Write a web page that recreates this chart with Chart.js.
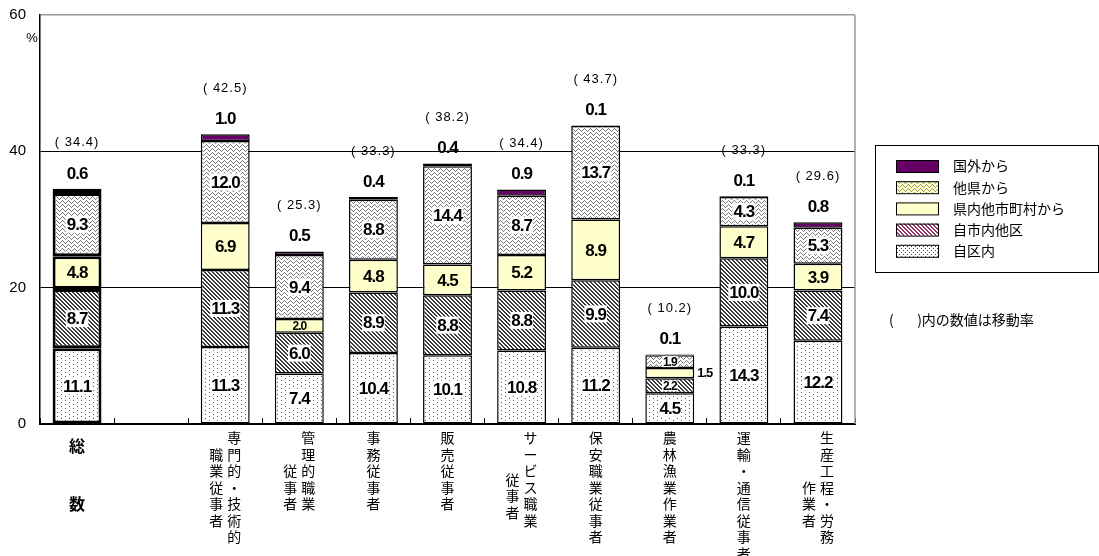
<!DOCTYPE html>
<html>
<head>
<meta charset="utf-8">
<script src="https://cdn.jsdelivr.net/npm/chart.js@4"></script>
<style>
  body { margin: 0; background: #fff; }
  #wrap { width: 1099px; height: 556px; position: relative; }
</style>
</head>
<body>
<div id="wrap"><canvas id="chart"></canvas></div>
<script>
// categories (x axis), one empty slot after 総数
const categories = ['総数', '', '専門的・技術的職業従事者', '管理的職業従事者', '事務従事者', '販売従事者',
    'サービス職業従事者', '保安職業従事者', '農林漁業作業者', '運輸・通信従事者', '生産工程・労務作業者'];

// vertical tick labels, columns right to left ('　' = skip one row, ' ' = half a row)
const tickColumns = [
    [' 総　　 数'],
    [''],
    ['専門的・技術的', '　職業従事者'],
    ['管理的職業', '　　従事者'],
    ['事務従事者'],
    ['販売従事者'],
    ['サービス職業', '　　 従事者'],
    ['保安職業従事者'],
    ['農林漁業作業者'],
    ['運輸・通信従事者'],
    ['生産工程・労務', '　　　作業者']
];

// series values (%)
const jikunai     = [11.1, null, 11.3, 7.4, 10.4, 10.1, 10.8, 11.2, 4.5, 14.3, 12.2];
const shinaiTaku  = [8.7, null, 11.3, 6.0, 8.9, 8.8, 8.8, 9.9, 2.2, 10.0, 7.4];
const kennaiTashi = [4.8, null, 6.9, 2.0, 4.8, 4.5, 5.2, 8.9, 1.5, 4.7, 3.9];
const taken       = [9.3, null, 12.0, 9.4, 8.8, 14.4, 8.7, 13.7, 1.9, 4.3, 5.3];
const kokugai     = [0.6, null, 1.0, 0.5, 0.4, 0.4, 0.9, 0.1, 0.1, 0.1, 0.8];
// 移動率 shown in brackets above each bar
const idouritsu   = [34.4, null, 42.5, 25.3, 33.3, 38.2, 34.4, 43.7, 10.2, 33.3, 29.6];

const seriesNames = ['自区内', '自市内他区', '県内他市町村から', '他県から', '国外から'];
const yTicks = [0, 20, 40, 60];

// small tile patterns
function makePattern(w, h, bg, fg, pixels) {
    const c = document.createElement('canvas');
    c.width = w; c.height = h;
    const g = c.getContext('2d');
    g.fillStyle = bg;
    g.fillRect(0, 0, w, h);
    g.fillStyle = fg;
    pixels.forEach(p => g.fillRect(p[0], p[1], 1, 1));
    return g.createPattern(c, 'repeat');
}
const dotPix = [[1, 0], [5, 2]];
const hatchPix = [[0, 0], [1, 0], [1, 1], [2, 1], [2, 2], [3, 2], [3, 3], [0, 3]];
const zigPix = [[0, 2], [1, 1], [2, 0], [3, 1], [4, 2], [5, 3]];

// patterns used in the bars (grey) and in the legend (coloured)
const barFills = [
    makePattern(8, 4, '#fff', '#555', dotPix),
    makePattern(4, 4, '#fff', '#3a3a3a', hatchPix),
    '#ffffcc',
    makePattern(6, 4, '#fff', '#7a7a7a', zigPix),
    '#660066'
];
const legendFills = [
    makePattern(4, 4, '#fff', '#2233cc', [[1, 0], [3, 2]]),
    makePattern(4, 4, '#fff', '#993366', hatchPix),
    '#ffffcc',
    makePattern(6, 4, '#ffffdd', '#999933', zigPix),
    '#660066'
];

const seriesData = [jikunai, shinaiTaku, kennaiTashi, taken, kokugai];

const NUM_FONT = 'bold 17px "Liberation Sans", Arial, sans-serif';
const JP_FONT = '"Noto Sans CJK JP", sans-serif';

// value labels inside / above the bars
const valueLabels = {
    id: 'valueLabels',
    afterDatasetsDraw(chart) {
        const ctx = chart.ctx;
        ctx.save();
        ctx.textAlign = 'center';
        ctx.textBaseline = 'middle';
        chart.data.datasets.forEach((ds, di) => {
            const meta = chart.getDatasetMeta(di);
            meta.data.forEach((bar, i) => {
                const v = ds.data[i];
                if (v == null) return;
                const p = bar.getProps(['x', 'y', 'base', 'width'], true);
                const txt = v.toFixed(1);
                ctx.letterSpacing = '-1px';
                ctx.fillStyle = '#000';
                if (di === 4) {
                    ctx.font = NUM_FONT;
                    ctx.fillText(txt, p.x, p.y - 15);
                    ctx.font = '13px "Liberation Sans", Arial, sans-serif';
                    ctx.letterSpacing = '1px';
                    ctx.fillText('( ' + idouritsu[i].toFixed(1) + ')', p.x, p.y - 46);
                    return;
                }
                const h = p.base - p.y;
                const cy = (p.y + p.base) / 2;
                if (h < 12) {
                    ctx.font = 'bold 13px "Liberation Sans", Arial, sans-serif';
                    ctx.textAlign = 'left';
                    ctx.fillText(txt, p.x + p.width / 2 + 3, cy);
                    ctx.textAlign = 'center';
                    return;
                }
                const small = h < 18;
                ctx.font = small ? 'bold 12px "Liberation Sans", Arial, sans-serif' : NUM_FONT;
                const tw = ctx.measureText(txt).width;
                const th = small ? 11 : 17;
                if (di !== 2) {
                    ctx.fillStyle = '#fff';
                    ctx.fillRect(p.x - tw / 2 - 1, cy - th / 2, tw + 2, th);
                    ctx.fillStyle = '#000';
                }
                ctx.fillText(txt, p.x, cy + 1);
            });
        });
        ctx.restore();
    }
};

// frame, vertical category labels, legend and notes
const decorations = {
    id: 'decorations',
    beforeDatasetsDraw(chart) {
        const a = chart.chartArea;
        const ctx = chart.ctx;
        ctx.save();
        ctx.strokeStyle = '#999';
        ctx.lineWidth = 1.5;
        ctx.beginPath();
        ctx.moveTo(a.right, a.top);
        ctx.lineTo(a.right, a.bottom);
        ctx.stroke();
        ctx.restore();
    },
    afterDraw(chart) {
        const a = chart.chartArea;
        const ctx = chart.ctx;
        const xs = chart.scales.x;
        ctx.save();
        ctx.fillStyle = '#000';
        ctx.textAlign = 'center';
        ctx.textBaseline = 'middle';

        // % unit
        ctx.font = '13px "Liberation Sans", Arial, sans-serif';
        ctx.fillText('%', 32, 38);

        // vertical tick labels
        tickColumns.forEach((cols, i) => {
            const cx = xs.getPixelForValue(i);
            ctx.font = (i === 0 ? 'bold 16px ' : '14px ') + JP_FONT;
            cols.forEach((col, k) => {
                const x = cx + (cols.length - 1) * 9 - k * 18;
                let row = 0;
                for (const ch of col) {
                    if (ch === '　') { row += 1; continue; }
                    if (ch === ' ') { row += 0.5; continue; }
                    ctx.fillText(ch, x, a.bottom + 14 + row * 16.5);
                    row += 1;
                }
            });
        });

        // legend
        const lx = 875, ly = 145, lw = 223, lh = 127;
        ctx.strokeStyle = '#000';
        ctx.lineWidth = 1;
        ctx.strokeRect(lx + 0.5, ly + 0.5, lw, lh);
        ctx.textAlign = 'left';
        ctx.font = '14px ' + JP_FONT;
        for (let r = 0; r < seriesNames.length; r++) {
            const si = seriesNames.length - 1 - r;
            const cy = 166 + r * 21.2;
            ctx.fillStyle = legendFills[si];
            ctx.fillRect(896, cy - 6, 42, 12);
            ctx.strokeRect(896.5, cy - 5.5, 42, 12);
            ctx.fillStyle = '#000';
            ctx.fillText(seriesNames[si], 953, cy);
        }
        ctx.fillText('(　   )内の数値は移動率', 889, 320);
        ctx.restore();
    }
};

const chart = new Chart(document.getElementById('chart'), {
    type: 'bar',
    data: {
        labels: categories,
        datasets: seriesData.map((d, si) => ({
            label: seriesNames[si],
            data: d,
            backgroundColor: barFills[si],
            borderColor: '#000',
            borderWidth: c => c.dataIndex === 0 ? 3 : 1.5,
            borderSkipped: false,
            barPercentage: 0.66,
            categoryPercentage: 1
        }))
    },
    options: {
        responsive: true,
        maintainAspectRatio: false,
        animation: false,
        layout: { padding: { left: 0, right: 244, top: 15, bottom: 0 } },
        plugins: {
            legend: { display: false },
            tooltip: { enabled: false }
        },
        scales: {
            x: {
                stacked: true,
                grid: {
                    display: true,
                    drawOnChartArea: false,
                    drawTicks: true,
                    tickLength: -6,
                    color: '#000',
                    lineWidth: 1,
                    offset: true
                },
                border: { color: '#000', width: 2 },
                ticks: { display: false },
                afterFit: s => { s.height = 132; }
            },
            y: {
                stacked: true,
                min: 0,
                max: 60,
                afterBuildTicks: s => { s.ticks = yTicks.map(v => ({ value: v })); },
                grid: {
                    drawTicks: false,
                    color: c => c.tick.value === 60 ? '#999' : '#000',
                    lineWidth: c => c.tick.value === 60 ? 1.5 : 1
                },
                border: { color: '#000', width: 1.5 },
                ticks: {
                    padding: 14,
                    color: '#000',
                    font: { family: '"Liberation Sans", Arial, sans-serif', size: 15 }
                },
                afterFit: s => {
                    s.width = 40;
                    s.paddingTop = 0;
                    s.paddingBottom = 0;
                }
            }
        }
    },
    plugins: [decorations, valueLabels]
});
</script>
</body>
</html>
